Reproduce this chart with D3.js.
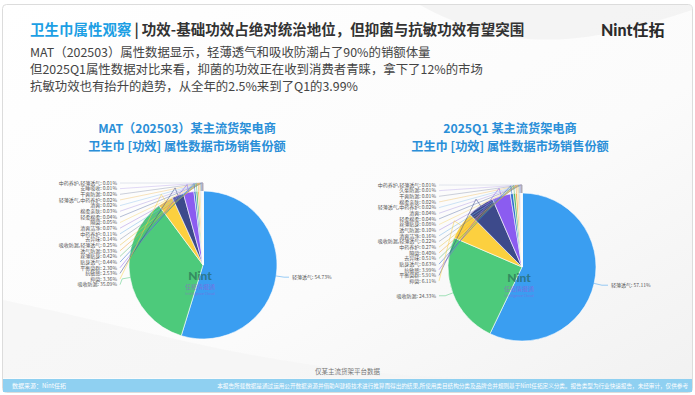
<!DOCTYPE html>
<html>
<head>
<meta charset="utf-8">
<script src="https://cdn.jsdelivr.net/npm/d3@7"></script>
<style>
  body { margin: 0; background: #fff; }
  svg { display: block; font-family: "Noto Sans CJK SC", "Noto Sans", sans-serif; }
</style>
</head>
<body>
<div id="chart"></div>
<script>
// page size
var width = 695,
    height = 395;

// MAT(202503) - descending, as drawn clockwise from 12 o'clock
const leftCats = ['轻薄透气', '吸收防漏', '抑菌', '抗敏感', '平衡菌群', '贴身透气', '丝薄贴身', '透气防漏',
  '吸收防漏,轻薄透气', '去异味', '中药养护', '清爽洁净', '隔菌', '轻柔棉柔', '棉柔亲肤', '清爽',
  '轻薄透气,中药养护', '干爽防漏', '安睡吸收', '中药养护,轻薄透气'];
const leftVals = [54.73, 35.09, 3.36, 2.53, 2.30, 0.44, 0.42, 0.33, 0.25, 0.14, 0.11, 0.07, 0.05, 0.04,
  0.03, 0.02, 0.02, 0.02, 0.01, 0.01];

// 2025Q1
const rightCats = ['轻薄透气', '吸收防漏', '抑菌', '平衡菌群', '抗敏感', '贴身透气', '去异味', '隔菌',
  '中药养护', '吸收防漏,轻薄透气', '清爽洁净', '透气防漏', '丝薄贴身', '轻柔棉柔', '清爽',
  '轻薄透气,中药养护', '棉柔亲肤', '干爽防漏', '久坐防漏', '中药养护,轻薄透气'];
const rightVals = [57.11, 24.33, 6.11, 5.91, 3.99, 0.63, 0.51, 0.40, 0.27, 0.22, 0.16, 0.10, 0.08, 0.04,
  0.04, 0.02, 0.02, 0.01, 0.01, 0.01];

const chartTitles = [
  ['MAT（202503）某主流货架电商', '卫生巾 [功效] 属性数据市场销售份额'],
  ['2025Q1 某主流货架电商', '卫生巾 [功效] 属性数据市场销售份额']
];

const introLines = [
  'MAT（202503）属性数据显示，轻薄透气和吸收防潮占了90%的销额体量',
  '但2025Q1属性数据对比来看，抑菌的功效正在收到消费者青睐，拿下了12%的市场',
  '抗敏功效也有抬升的趋势，从全年的2.5%来到了Q1的3.99%'
];

const palette = ['#3a9ef1', '#4dca7b', '#fcd03f', '#3d4a8b', '#8b5cf0', '#2f6fcf', '#55b86a', '#f0a43a',
  '#e8c34a', '#8a94a8', '#7ab8e8', '#a88ce0', '#f5d77c', '#6b7fae', '#b4a4e6', '#9fc9ef', '#f2c77a',
  '#9aa3b8', '#c3b3ee', '#c8cfe0'];

var svg = d3.select('#chart')
  .append('svg')
  .attr('width', width)
  .attr('height', height);

// background + soft swooshes
var defs = svg.append('defs');
var bg = defs.append('linearGradient').attr('id', 'bg')
  .attr('x1', 0).attr('y1', 0).attr('x2', 1).attr('y2', 1);
bg.append('stop').attr('offset', '0%').attr('stop-color', '#ffffff');
bg.append('stop').attr('offset', '60%').attr('stop-color', '#fbfbfb');
bg.append('stop').attr('offset', '100%').attr('stop-color', '#f1f1f1');

svg.append('rect').attr('width', width).attr('height', height).attr('fill', '#fff');
svg.append('rect')
  .attr('x', 2.5).attr('y', 4.5)
  .attr('width', width - 5).attr('height', height - 7)
  .attr('rx', 4)
  .attr('fill', 'url(#bg)')
  .attr('stroke', '#dcdcdc');

svg.append('path')
  .attr('d', 'M420,5 C520,60 600,40 692,10 L692,5 Z')
  .attr('fill', '#eeeeee').attr('opacity', 0.6);
svg.append('path')
  .attr('d', 'M3,300 C150,330 300,380 500,378 L3,378 Z')
  .attr('fill', '#f3f3f3').attr('opacity', 0.6);

// header
var title = svg.append('text')
  .attr('x', 30).attr('y', 35)
  .style('font-size', '14.5px')
  .style('font-weight', 'bold');
title.append('tspan').attr('fill', '#1c9fe4').text('卫生巾属性观察');
title.append('tspan').attr('fill', '#333').attr('dx', 3).text('|');
title.append('tspan').attr('fill', '#333').attr('dx', 3).text('功效-基础功效占绝对统治地位，但抑菌与抗敏功效有望突围');

var logo = svg.append('text')
  .attr('x', 601).attr('y', 36)
  .attr('fill', '#2b2b2b')
  .style('font-size', '16px')
  .style('font-weight', 'bold');
logo.append('tspan').style('font-family', 'Lato, sans-serif').style('font-weight', '900').text('Nint');
logo.append('tspan').text('任拓');

svg.selectAll('.intro')
  .data(introLines)
  .enter()
  .append('text')
  .attr('class', 'intro')
  .attr('x', 30)
  .attr('y', (d, i) => 57 + i * 17)
  .attr('fill', '#444')
  .style('font-size', '12.4px')
  .text(d => d);

// one pie
function drawPie(cats, vals, cx, cy, titles, tx) {
  var r = 74, len1 = 8, gap = 5.65;
  var g = svg.append('g');

  g.selectAll('.ttl')
    .data(titles)
    .enter()
    .append('text')
    .attr('x', tx)
    .attr('y', (d, i) => 133 + i * 17.5)
    .attr('text-anchor', 'middle')
    .attr('fill', '#2a8fd8')
    .style('font-size', '12.2px')
    .style('font-weight', 'bold')
    .text(d => d);

  var data = cats.map((c, i) => ({ name: c, value: vals[i], idx: i }));
  var arcs = d3.pie().sort(null).value(d => d.value)(data);
  var arc = d3.arc().innerRadius(0).outerRadius(r);

  var pg = g.append('g').attr('transform', 'translate(' + cx + ',' + cy + ')');
  pg.selectAll('path')
    .data(arcs)
    .enter()
    .append('path')
    .attr('d', arc)
    .attr('fill', d => palette[d.data.idx])
    .attr('stroke', '#fff')
    .attr('stroke-width', 0.6);

  // watermark
  pg.append('text').attr('x', -3).attr('y', 15).attr('text-anchor', 'middle')
    .attr('fill', '#24604f').attr('opacity', 0.6)
    .style('font-family', 'Lato, sans-serif').style('font-weight', '900').style('font-size', '12px')
    .text('Nint');
  pg.append('text').attr('x', -3).attr('y', 24).attr('text-anchor', 'middle')
    .attr('fill', '#a050d8').attr('opacity', 0.55)
    .style('font-size', '6px').text('任拓情报通');
  pg.append('text').attr('x', -3).attr('y', 30).attr('text-anchor', 'middle')
    .attr('fill', '#a050d8').attr('opacity', 0.5)
    .style('font-size', '3.5px').text('Intelligence Cloud');

  // label geometry
  var pts = arcs.map(a => {
    var m = (a.startAngle + a.endAngle) / 2;
    return {
      a: a, m: m,
      p0: [cx + r * Math.sin(m), cy - r * Math.cos(m)],
      p1: [cx + (r + len1) * Math.sin(m), cy - (r + len1) * Math.cos(m)]
    };
  });

  var right = pts.filter(p => p.m < Math.PI);
  var left = pts.filter(p => p.m >= Math.PI).sort((a, b) => b.m - a.m);

  // stack left labels top-down
  var prev = -Infinity;
  left.forEach(p => {
    p.ly = Math.max(p.p1[1], prev + gap);
    prev = p.ly;
    p.lx = cx - r - 12;
  });
  right.forEach(p => {
    p.ly = p.p1[1];
    p.lx = cx + r + 15;
  });

  var lab = g.append('g');
  left.concat(right).forEach(p => {
    var isLeft = p.m >= Math.PI;
    var end = [p.lx + (isLeft ? 3 : -3), p.ly];
    lab.append('polyline')
      .attr('points', [p.p0, p.p1, end].map(q => q.join(',')).join(' '))
      .attr('fill', 'none')
      .attr('stroke', palette[p.a.data.idx])
      .attr('stroke-width', 0.6)
      .attr('opacity', 0.85);
    lab.append('text')
      .attr('x', p.lx)
      .attr('y', p.ly)
      .attr('dy', '0.35em')
      .attr('text-anchor', isLeft ? 'end' : 'start')
      .attr('fill', '#555')
      .style('font-size', '5px')
      .text(p.a.data.name + ': ' + p.a.data.value.toFixed(2) + '%');
  });
}

drawPie(leftCats, leftVals, 203, 265, chartTitles[0], 187);
drawPie(rightCats, rightVals, 522, 267, chartTitles[1], 510);

// footer
svg.append('text')
  .attr('x', width / 2).attr('y', 374)
  .attr('text-anchor', 'middle')
  .attr('fill', '#777')
  .style('font-size', '6.5px')
  .text('仅某主流货架平台数据');

svg.append('rect')
  .attr('x', 3).attr('y', 379)
  .attr('width', width - 6).attr('height', 13)
  .attr('fill', '#8fd0f1');
svg.append('text')
  .attr('x', 12).attr('y', 388)
  .attr('fill', '#fff')
  .style('font-size', '6px')
  .text('数据来源：Nint任拓');
svg.append('text')
  .attr('x', 688).attr('y', 388)
  .attr('text-anchor', 'end')
  .attr('fill', '#fff')
  .style('font-size', '5.6px')
  .text('本报告所载数据是通过运用公开数据资源并借助AI建模技术进行推算而得出的结果,所使用类目结构分类及品牌合并规则基于Nint任拓定义分类。报告类型为行业快速报告，未经审计，仅供参考');
</script>
</body>
</html>
